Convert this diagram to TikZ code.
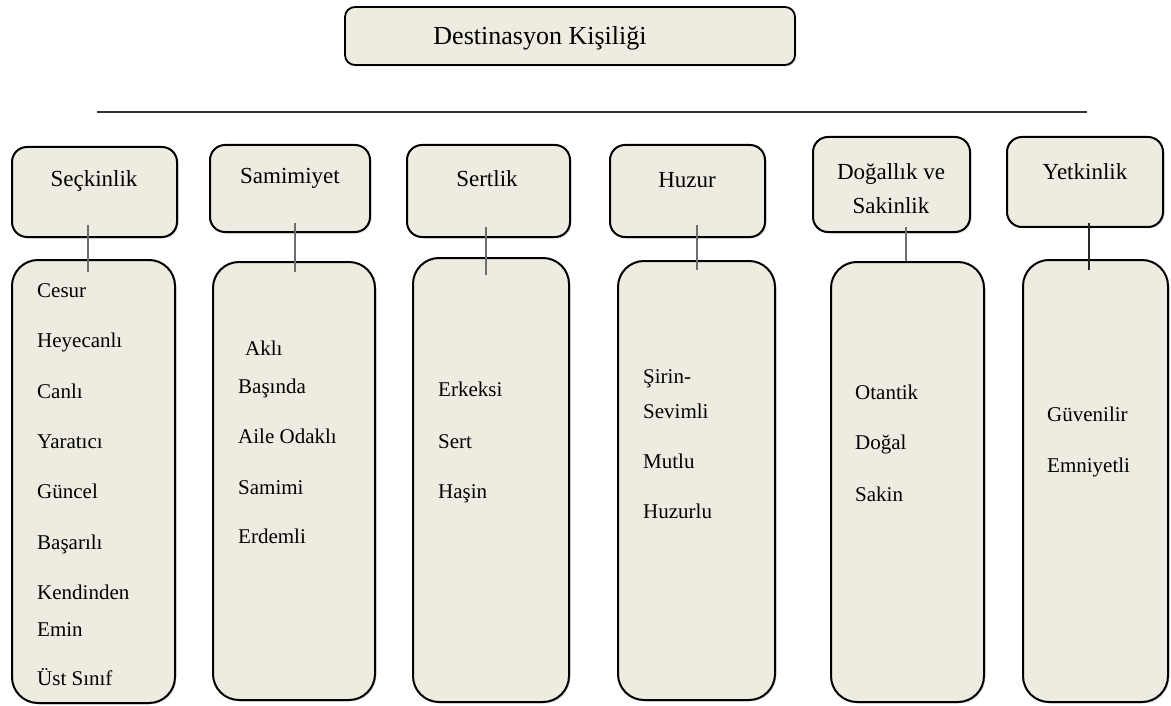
\documentclass[tikz,border=0pt]{standalone}
\usepackage{fontspec}
\setmainfont{Liberation Serif}
\usetikzlibrary{shadows}
\definecolor{boxtan}{HTML}{EEECE1}
\definecolor{conngray}{HTML}{6E6E6E}
\begin{document}
\begin{tikzpicture}[x=1pt,y=-1pt,
  basebox/.style={draw=black, line width=2pt, fill=boxtan, inner sep=0pt, outer sep=0pt,
    drop shadow={opacity=0.25, shadow xshift=1.5pt, shadow yshift=-1.5pt}},
  headbox/.style={basebox, rounded corners=15pt},
  listbox/.style={basebox, rounded corners=26pt},
  titlebox/.style={basebox, rounded corners=10pt, line width=1.8pt},
  item/.style={anchor=base west, inner sep=0pt, font=\fontsize{21}{24}\selectfont},
  headtxt/.style={anchor=base, inner sep=0pt, font=\fontsize{23}{27}\selectfont},
  titletxt/.style={anchor=base, inner sep=0pt, font=\fontsize{26}{30}\selectfont},
  conn/.style={draw=conngray, line width=1.6pt},
  rule/.style={draw=black!80, line width=1.6pt}
]
\useasboundingbox (0,0) rectangle (1171,706);

% title
\node[titlebox, minimum width=450pt, minimum height=58pt] (title) at (570,36) {};
\node[titletxt] (titlet) at (540,45) {Destinasyon Kişiliği};

% rule
\coordinate (ruleL) at (97,112);
\coordinate (ruleR) at (1087,112);
\draw[rule] (ruleL) -- (ruleR);

% header boxes
\node[headbox, minimum width=165pt, minimum height=90pt] (h1) at (94.5,192) {};
\node[headbox, minimum width=160pt, minimum height=87pt] (h2) at (290,188.5) {};
\node[headbox, minimum width=163pt, minimum height=92pt] (h3) at (488.5,191) {};
\node[headbox, minimum width=155pt, minimum height=92pt] (h4) at (687.5,191) {};
\node[headbox, minimum width=157pt, minimum height=95pt] (h5) at (891.5,184.5) {};
\node[headbox, minimum width=156pt, minimum height=90pt] (h6) at (1085,182) {};

% list boxes
\node[listbox, minimum width=163pt, minimum height=443pt] (l1) at (93.5,481.5) {};
\node[listbox, minimum width=162pt, minimum height=438pt] (l2) at (294,481) {};
\node[listbox, minimum width=156pt, minimum height=444pt] (l3) at (491,480) {};
\node[listbox, minimum width=157pt, minimum height=439pt] (l4) at (696.5,480.5) {};
\node[listbox, minimum width=153pt, minimum height=440pt] (l5) at (907.5,482) {};
\node[listbox, minimum width=145pt, minimum height=442pt] (l6) at (1095.5,481) {};

% header texts
\node[headtxt] (t1) at (94,187) {Seçkinlik};
\node[headtxt] (t2) at (290,184) {Samimiyet};
\node[headtxt] (t3) at (487,186) {Sertlik};
\node[headtxt] (t4) at (687,188) {Huzur};
\node[headtxt] (t5a) at (891,180) {Doğallık ve};
\node[headtxt] (t5b) at (891,214) {Sakinlik};
\node[headtxt] (t6) at (1085,179) {Yetkinlik};

% connectors
\coordinate (c1a) at (88,225);  \coordinate (c1b) at (88,272);
\coordinate (c2a) at (295,223); \coordinate (c2b) at (295,272);
\coordinate (c3a) at (486,227); \coordinate (c3b) at (486,275);
\coordinate (c4a) at (697,225); \coordinate (c4b) at (697,270);
\coordinate (c5a) at (906,227); \coordinate (c5b) at (906,261);
\coordinate (c6a) at (1089,223); \coordinate (c6b) at (1089,270);
\draw[conn] (c1a) -- (c1b);
\draw[conn] (c2a) -- (c2b);
\draw[conn] (c3a) -- (c3b);
\draw[conn] (c4a) -- (c4b);
\draw[conn] (c5a) -- (c5b);
\draw[conn, draw=black!85] (c6a) -- (c6b);

% column 1
\node[item] (a1) at (37,297) {Cesur};
\node[item] (a2) at (37,347) {Heyecanlı};
\node[item] (a3) at (37,398) {Canlı};
\node[item] (a4) at (37,448) {Yaratıcı};
\node[item] (a5) at (37,498) {Güncel};
\node[item] (a6) at (37,549) {Başarılı};
\node[item] (a7) at (37,599) {Kendinden};
\node[item] (a8) at (37,636) {Emin};
\node[item] (a9) at (37,685) {Üst Sınıf};

% column 2
\node[item] (b1) at (245,355) {Aklı};
\node[item] (b2) at (238,393) {Başında};
\node[item] (b3) at (238,443) {Aile Odaklı};
\node[item] (b4) at (238,494) {Samimi};
\node[item] (b5) at (238,543) {Erdemli};

% column 3
\node[item] (d1) at (438,396) {Erkeksi};
\node[item] (d2) at (438,448) {Sert};
\node[item] (d3) at (438,498) {Haşin};

% column 4
\node[item] (e1) at (643,383) {Şirin-};
\node[item] (e2) at (643,418) {Sevimli};
\node[item] (e3) at (643,468) {Mutlu};
\node[item] (e4) at (643,518) {Huzurlu};

% column 5
\node[item] (f1) at (855,399) {Otantik};
\node[item] (f2) at (855,449) {Doğal};
\node[item] (f3) at (855,501) {Sakin};

% column 6
\node[item] (g1) at (1047,421) {Güvenilir};
\node[item] (g2) at (1047,472) {Emniyetli};
\end{tikzpicture}
\end{document}
